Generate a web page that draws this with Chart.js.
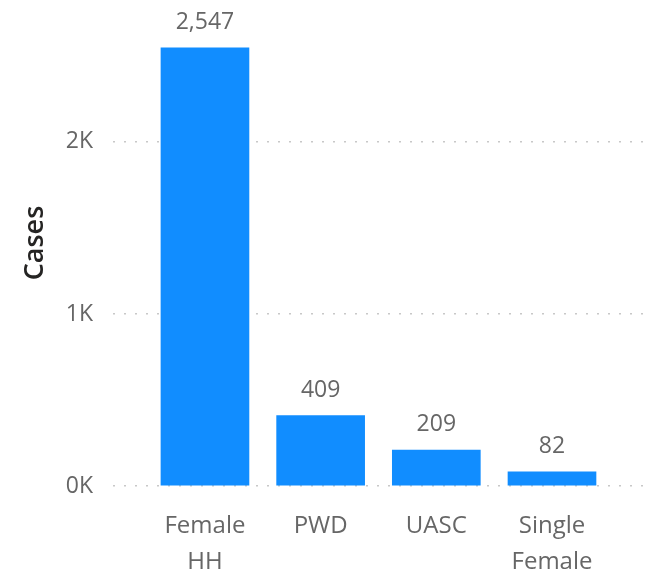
<!DOCTYPE html>
<html>
<head>
<meta charset="utf-8">
<script src="https://cdn.jsdelivr.net/npm/chart.js@4.4.0/dist/chart.umd.min.js"></script>
<style>
  html, body { margin: 0; padding: 0; background: #ffffff; }
  #wrap { width: 657px; height: 571px; position: relative; }
</style>
</head>
<body>
<div id="wrap"><canvas id="c"></canvas></div>
<script>
const categories = [['Female', 'HH'], ['PWD'], ['UASC'], ['Single', 'Female']];
const cases = [2547, 409, 209, 82];
const yTickValues = [0, 1000, 2000];
const yTickLabels = ['0K', '1K', '2K'];
const axisTitle = 'Cases';

const points = cases.map((v, i) => ({ x: i, y: v }));

const dataLabels = {
  id: 'dataLabels',
  afterDatasetsDraw(chart) {
    const ctx = chart.ctx;
    const meta = chart.getDatasetMeta(0);
    ctx.save();
    ctx.font = '23px "Open Sans"';
    ctx.fillStyle = '#666666';
    ctx.textAlign = 'center';
    ctx.textBaseline = 'alphabetic';
    meta.data.forEach((bar, i) => {
      ctx.fillText(cases[i].toLocaleString('en-US'), bar.x, bar.y - 19);
    });
    ctx.restore();
  }
};

new Chart(document.getElementById('c'), {
  type: 'bar',
  data: {
    datasets: [{
      data: points,
      backgroundColor: '#118DFF',
      borderWidth: 0,
      barThickness: 88
    }]
  },
  options: {
    responsive: true,
    maintainAspectRatio: false,
    animation: false,
    layout: { padding: { top: 0, right: 12, left: 0, bottom: 0 } },
    plugins: { legend: { display: false }, tooltip: { enabled: false } },
    scales: {
      x: {
        type: 'linear',
        offset: false,
        min: -0.795,
        max: 3.804,
        afterFit: s => { s.height = 85; s.paddingLeft = 0; s.paddingRight = 0; s.paddingTop = 0; s.paddingBottom = 0; },
        grid: { display: false, drawTicks: false, offset: false },
        border: { display: false },
        afterBuildTicks: s => { s.ticks = categories.map((c, i) => ({ value: i })); },
        ticks: {
          autoSkip: false,
          maxRotation: 0,
          padding: 22,
          color: '#666666',
          font: { family: '"Open Sans"', size: 24, lineHeight: 1.5 },
          callback: v => categories[v]
        }
      },
      y: {
        min: 0,
        max: 2825,
        afterFit: s => { s.width = 113; s.paddingTop = 0; s.paddingBottom = 0; s.paddingLeft = 0; s.paddingRight = 0; },
        afterBuildTicks: s => { s.ticks = yTickValues.map(v => ({ value: v })); },
        grid: { color: '#c8c8c8', lineWidth: 1.5, drawTicks: false },
        border: { display: false, dash: [2, 9] },
        ticks: {
          padding: 20,
          color: '#666666',
          font: { family: '"Open Sans"', size: 23 },
          callback: v => yTickLabels[yTickValues.indexOf(v)]
        },
        title: {
          display: true,
          text: axisTitle,
          color: '#252423',
          padding: { top: 19, bottom: 0 },
          font: { family: '"Open Sans"', size: 27, weight: '600' }
        }
      }
    }
  },
  plugins: [dataLabels]
});
</script>
</body>
</html>
